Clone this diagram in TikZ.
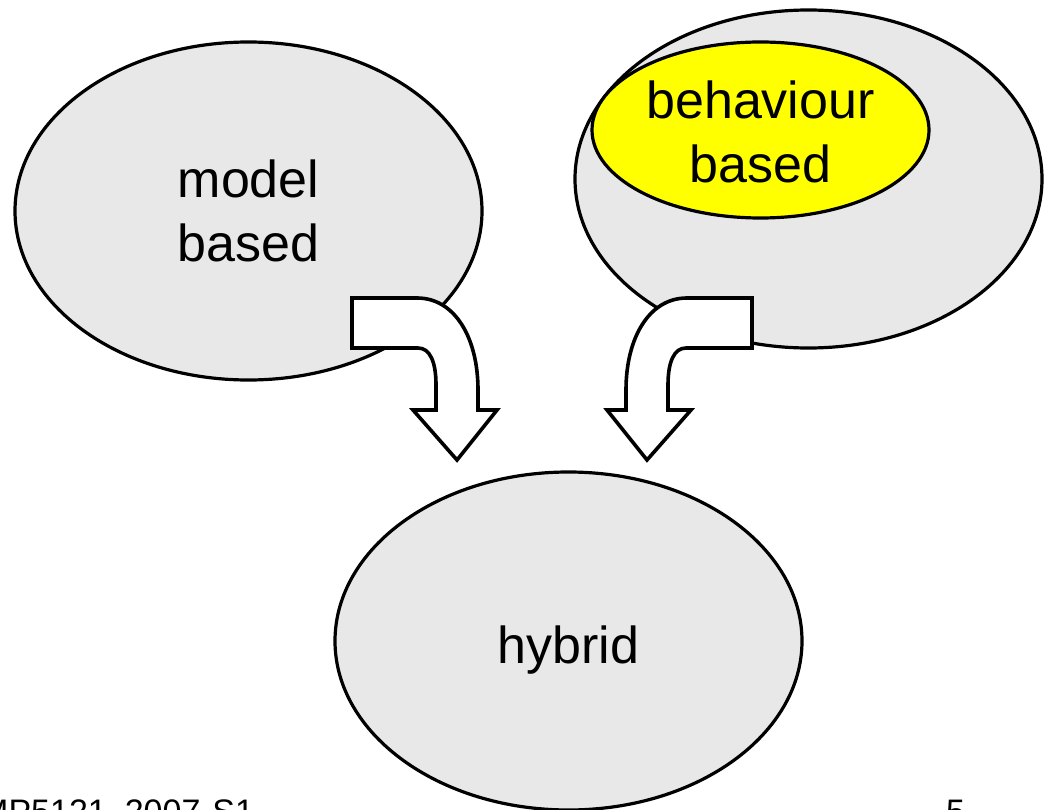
\documentclass[tikz,border=0pt]{standalone}
\usepackage{fontspec}
\setmainfont{Liberation Sans}
\usetikzlibrary{shapes.geometric}
\definecolor{ellgray}{HTML}{E8E8E8}
\definecolor{ellyellow}{HTML}{FFFF00}
\tikzset{
  ell/.style={ellipse, draw=black, line width=3.2pt, fill=ellgray, inner sep=0pt,
              minimum width=467pt, minimum height=338pt},
  yell/.style={ellipse, draw=black, line width=3.2pt, fill=ellyellow, inner sep=0pt,
              minimum width=337pt, minimum height=176pt},
  lbl/.style={align=center, font=\fontsize{52}{64}\selectfont, inner sep=0pt},
  foot/.style={font=\fontsize{34}{40}\selectfont, inner sep=0pt, anchor=base west},
  blockarrow/.style={draw=black, line width=3.6pt, fill=white, line join=miter}
}
\begin{document}
\begin{tikzpicture}[x=1pt,y=-1pt]
\useasboundingbox (0,0) rectangle (1044,810);
\clip (0,0) rectangle (1044,810);
% ellipses
\node[ell] (model) at (248.5,211) {};
\node[ell] (behav) at (808.5,179) {};
\node[yell] (inner) at (760.5,130) {};
\node[ell] (hybrid) at (568.5,641) {};
% labels
\node[lbl] (modeltxt) at (248.5,211) {model\\based};
\node[lbl] (behavtxt) at (760.5,131.5) {behaviour\\based};
\node[lbl, anchor=base] (hybridtxt) at (568.5,663) {hybrid};
% block arrows
\draw[blockarrow] (352,298) -- (417,298)
  .. controls (455,298) and (478,338) .. (478,390) -- (478,410)
  -- (497,410) -- (457,460) -- (413,410) -- (436,410) -- (436,385)
  .. controls (436,362) and (430,348) .. (418,348) -- (352,348) -- cycle;
\draw[blockarrow] (752,298) -- (687,298)
  .. controls (649,298) and (626,338) .. (626,390) -- (626,410)
  -- (607,410) -- (647,460) -- (691,410) -- (668,410) -- (668,385)
  .. controls (668,362) and (674,348) .. (686,348) -- (752,348) -- cycle;
% footer
\node[foot] (course) at (-71,823) {COMP5121\hspace{18pt}2007\hspace{12pt}S1};
\node[foot] (page) at (946,823) {5};
\end{tikzpicture}
\end{document}
